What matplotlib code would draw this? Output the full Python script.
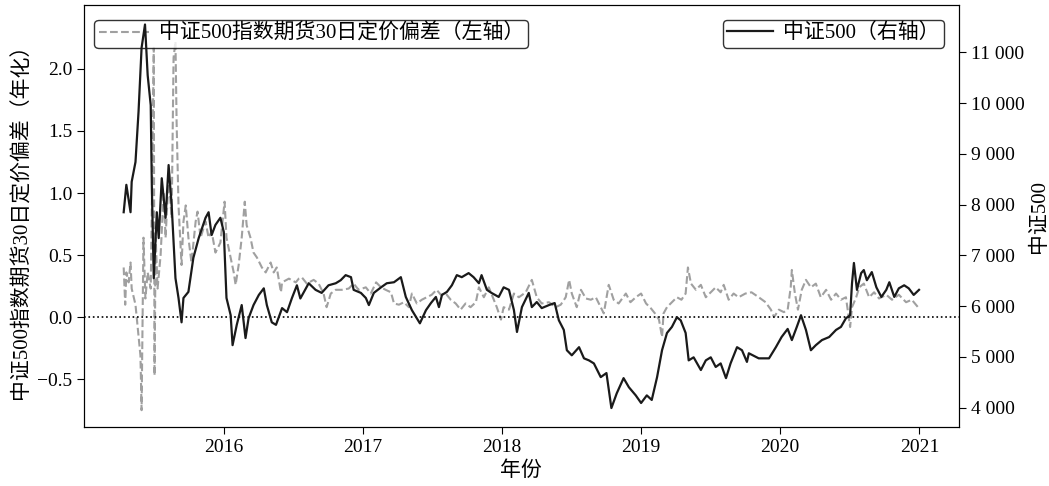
import pandas as pd
import matplotlib
matplotlib.use('Agg')
import matplotlib.pyplot as plt
import matplotlib.dates as mdates
from matplotlib.ticker import FuncFormatter, MultipleLocator

plt.rcParams['font.family'] = ['Liberation Serif', 'Noto Sans CJK SC', 'DejaVu Sans']
plt.rcParams['axes.unicode_minus'] = True

# 中证500 指数（右轴）
csi_dates = [
    '2015-04-13', '2015-04-20', '2015-05-01', '2015-05-04', '2015-05-14', '2015-05-22',
    '2015-05-30', '2015-06-08', '2015-06-15', '2015-06-23', '2015-06-26', '2015-07-01',
    '2015-07-09', '2015-07-14', '2015-07-22', '2015-08-01', '2015-08-09', '2015-08-17',
    '2015-08-27', '2015-09-04', '2015-09-12', '2015-09-17', '2015-09-30', '2015-10-13',
    '2015-10-27', '2015-11-14', '2015-11-22', '2015-11-30', '2015-12-10', '2015-12-23',
    '2016-01-01', '2016-01-08', '2016-01-19', '2016-01-24', '2016-02-04', '2016-02-17',
    '2016-02-27', '2016-03-06', '2016-03-19', '2016-04-02', '2016-04-15', '2016-04-23',
    '2016-05-06', '2016-05-17', '2016-06-02', '2016-06-15', '2016-06-28', '2016-07-11',
    '2016-07-20', '2016-08-11', '2016-08-29', '2016-09-14', '2016-10-02', '2016-10-21',
    '2016-11-03', '2016-11-16', '2016-11-30', '2016-12-07', '2016-12-26', '2017-01-08',
    '2017-01-16', '2017-01-29', '2017-02-17', '2017-03-04', '2017-03-23', '2017-04-10',
    '2017-04-23', '2017-05-09', '2017-05-30', '2017-06-15', '2017-06-28', '2017-07-11',
    '2017-07-19', '2017-07-27', '2017-08-09', '2017-08-22', '2017-09-04', '2017-09-17',
    '2017-10-05', '2017-10-18', '2017-11-01', '2017-11-08', '2017-11-22', '2017-12-04',
    '2017-12-23', '2018-01-05', '2018-01-19', '2018-02-01', '2018-02-09', '2018-02-22',
    '2018-03-12', '2018-03-20', '2018-04-02', '2018-04-15', '2018-05-04', '2018-05-19',
    '2018-05-30', '2018-06-12', '2018-06-20', '2018-07-03', '2018-07-22', '2018-08-04',
    '2018-08-17', '2018-08-30', '2018-09-17', '2018-10-02', '2018-10-15', '2018-10-29',
    '2018-11-16', '2018-11-30', '2018-12-18', '2019-01-01', '2019-01-16', '2019-01-29',
    '2019-02-12', '2019-02-25', '2019-03-10', '2019-03-23', '2019-04-05', '2019-04-15',
    '2019-04-28', '2019-05-06', '2019-05-19', '2019-06-07', '2019-06-20', '2019-07-03',
    '2019-07-16', '2019-07-29', '2019-08-12', '2019-08-24', '2019-09-10', '2019-09-23',
    '2019-10-06', '2019-10-11', '2019-11-06', '2019-12-03', '2019-12-21', '2020-01-05',
    '2020-01-21', '2020-02-01', '2020-02-14', '2020-02-25', '2020-03-09', '2020-03-22',
    '2020-04-04', '2020-04-20', '2020-05-09', '2020-05-27', '2020-06-09', '2020-06-22',
    '2020-07-03', '2020-07-08', '2020-07-13', '2020-07-21', '2020-08-01', '2020-08-08',
    '2020-08-16', '2020-08-29', '2020-09-10', '2020-09-23', '2020-10-06', '2020-10-14',
    '2020-10-27', '2020-11-08', '2020-11-22', '2020-12-04', '2020-12-17', '2020-12-31',
]
csi_values = [
    7850, 8390, 7850, 8450, 8840, 9830,
    11090, 11550, 10550, 9960, 8330, 6550,
    7850, 7340, 8520, 7740, 8780, 7990,
    6550, 6160, 5680, 6160, 6280, 6950,
    7340, 7740, 7850, 7400, 7600, 7740,
    7460, 6160, 5820, 5230, 5630, 6020,
    5370, 5760, 6020, 6220, 6350, 6020,
    5680, 5630, 5960, 5880, 6160, 6410,
    6150, 6450, 6320, 6260, 6410, 6450,
    6510, 6610, 6570, 6320, 6260, 6160,
    6020, 6260, 6370, 6450, 6470, 6570,
    6180, 5920, 5660, 5920, 6060, 6180,
    5980, 6220, 6280, 6410, 6610, 6570,
    6650, 6570, 6450, 6610, 6320, 6260,
    6180, 6370, 6320, 5920, 5490, 5980,
    6260, 5980, 6080, 5960, 6020, 6060,
    5720, 5530, 5130, 5030, 5190, 4970,
    4930, 4870, 4600, 4680, 3990, 4280,
    4580, 4400, 4240, 4090, 4240, 4150,
    4600, 5130, 5470, 5590, 5780, 5720,
    5470, 4930, 4990, 4740, 4930, 4990,
    4800, 4870, 4580, 4870, 5190, 5130,
    4900, 5070, 4970, 4970, 5190, 5390,
    5550, 5330, 5590, 5820, 5530, 5130,
    5230, 5330, 5390, 5530, 5590, 5760,
    5820, 6450, 6850, 6320, 6650, 6710,
    6510, 6670, 6370, 6180, 6320, 6470,
    6180, 6350, 6410, 6350, 6220, 6320,
]

# 中证500指数期货30日定价偏差（年化，左轴）
gap_dates = [
    '2015-04-13', '2015-04-17', '2015-04-20', '2015-04-26', '2015-05-01', '2015-05-04',
    '2015-05-14', '2015-05-19', '2015-05-27', '2015-05-30', '2015-06-04', '2015-06-09',
    '2015-06-15', '2015-06-23', '2015-06-26', '2015-07-01', '2015-07-03', '2015-07-06',
    '2015-07-11', '2015-07-19', '2015-07-27', '2015-08-01', '2015-08-09', '2015-08-17',
    '2015-08-22', '2015-08-27', '2015-08-30', '2015-09-04', '2015-09-12', '2015-09-17',
    '2015-09-23', '2015-09-30', '2015-10-08', '2015-10-19', '2015-10-24', '2015-11-01',
    '2015-11-14', '2015-11-22', '2015-11-30', '2015-12-10', '2015-12-23', '2016-01-03',
    '2016-01-08', '2016-01-19', '2016-01-27', '2016-02-01', '2016-02-09', '2016-02-17',
    '2016-02-25', '2016-03-01', '2016-03-11', '2016-03-19', '2016-03-28', '2016-04-10',
    '2016-04-20', '2016-05-03', '2016-05-11', '2016-05-19', '2016-05-30', '2016-06-02',
    '2016-06-20', '2016-07-08', '2016-07-16', '2016-07-24', '2016-08-06', '2016-08-24',
    '2016-09-06', '2016-09-19', '2016-09-27', '2016-10-08', '2016-10-21', '2016-11-06',
    '2016-11-24', '2016-12-07', '2016-12-20', '2017-01-08', '2017-01-21', '2017-02-04',
    '2017-02-17', '2017-03-01', '2017-03-15', '2017-03-23', '2017-04-05', '2017-04-18',
    '2017-05-01', '2017-05-09', '2017-05-22', '2017-06-04', '2017-06-17', '2017-06-30',
    '2017-07-13', '2017-07-24', '2017-08-06', '2017-08-19', '2017-09-01', '2017-09-14',
    '2017-09-27', '2017-10-10', '2017-10-24', '2017-11-01', '2017-11-14', '2017-11-27',
    '2017-12-10', '2017-12-18', '2017-12-29', '2018-01-05', '2018-01-19', '2018-02-01',
    '2018-02-14', '2018-03-04', '2018-03-20', '2018-04-02', '2018-04-15', '2018-05-04',
    '2018-05-22', '2018-06-04', '2018-06-17', '2018-06-26', '2018-07-03', '2018-07-16',
    '2018-07-27', '2018-08-09', '2018-08-22', '2018-09-04', '2018-09-17', '2018-09-25',
    '2018-10-08', '2018-10-21', '2018-11-03', '2018-11-22', '2018-12-04', '2018-12-18',
    '2019-01-01', '2019-01-14', '2019-01-27', '2019-02-09', '2019-02-17', '2019-02-25',
    '2019-03-01', '2019-03-10', '2019-03-23', '2019-04-05', '2019-04-17', '2019-04-28',
    '2019-05-04', '2019-05-12', '2019-05-25', '2019-06-07', '2019-06-20', '2019-07-03',
    '2019-07-16', '2019-07-29', '2019-08-06', '2019-08-19', '2019-09-01', '2019-09-14',
    '2019-10-02', '2019-10-18', '2019-11-06', '2019-11-24', '2019-12-08', '2019-12-16',
    '2019-12-29', '2020-01-11', '2020-01-21', '2020-01-29', '2020-02-01', '2020-02-09',
    '2020-02-17', '2020-02-27', '2020-03-09', '2020-03-22', '2020-04-04', '2020-04-17',
    '2020-05-01', '2020-05-14', '2020-05-27', '2020-06-09', '2020-06-22', '2020-07-03',
    '2020-07-08', '2020-07-19', '2020-07-27', '2020-08-08', '2020-08-22', '2020-09-04',
    '2020-09-17', '2020-10-06', '2020-10-21', '2020-11-08', '2020-11-27', '2020-12-12',
    '2020-12-31',
]
gap_values = [
    0.40, 0.10, 0.36, 0.28, 0.44, 0.23,
    0.10, -0.06, -0.31, -0.75, 0.64, 0.15,
    0.36, 0.23, 0.90, 2.17, -0.47, 0.64,
    0.23, 0.50, 1.01, 0.64, 1.12, 0.80,
    2.09, 2.22, 1.57, 0.90, 0.42, 0.77,
    0.90, 0.64, 0.44, 0.77, 0.85, 0.64,
    0.77, 0.64, 0.69, 0.52, 0.60, 0.93,
    0.64, 0.48, 0.36, 0.26, 0.42, 0.64,
    0.93, 0.74, 0.64, 0.52, 0.48, 0.40,
    0.36, 0.44, 0.36, 0.40, 0.20, 0.28,
    0.31, 0.28, 0.31, 0.32, 0.27, 0.30,
    0.27, 0.19, 0.08, 0.19, 0.22, 0.22,
    0.23, 0.27, 0.22, 0.24, 0.19, 0.28,
    0.24, 0.22, 0.20, 0.11, 0.10, 0.12,
    0.08, 0.19, 0.11, 0.14, 0.16, 0.18,
    0.22, 0.18, 0.19, 0.14, 0.11, 0.06,
    0.11, 0.08, 0.12, 0.24, 0.16, 0.24,
    0.14, 0.08, -0.02, 0.08, 0.06, 0.19,
    0.16, 0.20, 0.30, 0.16, 0.11, 0.12,
    0.08, 0.10, 0.16, 0.30, 0.19, 0.08,
    0.22, 0.15, 0.14, 0.16, 0.08, 0.03,
    0.26, 0.14, 0.11, 0.19, 0.12, 0.16,
    0.19, 0.11, 0.07, 0.02, -0.02, -0.16,
    0.03, 0.08, 0.12, 0.16, 0.14, 0.19,
    0.40, 0.27, 0.22, 0.26, 0.16, 0.20,
    0.24, 0.20, 0.26, 0.14, 0.19, 0.16,
    0.19, 0.20, 0.16, 0.12, 0.06, 0.00,
    0.06, 0.04, 0.06, 0.24, 0.38, 0.19,
    0.06, 0.22, 0.30, 0.24, 0.27, 0.16,
    0.22, 0.14, 0.19, 0.14, 0.16, -0.08,
    0.08, 0.16, 0.24, 0.27, 0.16, 0.20,
    0.15, 0.18, 0.14, 0.18, 0.12, 0.14,
    0.07,
]

left_ticks = [-0.5, 0.0, 0.5, 1.0, 1.5, 2.0]
year_ticks = ['2016-01-01', '2017-01-01', '2018-01-01', '2019-01-01', '2020-01-01', '2021-01-01']

csi_t = pd.to_datetime(csi_dates)
gap_t = pd.to_datetime(gap_dates)

fig = plt.figure(figsize=(10.49, 4.86), dpi=100)
ax = fig.add_axes([0.080, 0.121, 0.834, 0.869])
ax2 = ax.twinx()

l1, = ax.plot(gap_t, gap_values, color='#a0a0a0', lw=1.5, ls='--',
              label='中证500指数期货30日定价偏差（左轴）')
ax.axhline(0, color='black', lw=1.2, ls=':')
l2, = ax2.plot(csi_t, csi_values, color='#1a1a1a', lw=1.6,
               label='中证500（右轴）')

ax.set_ylim(-0.887, 2.516)
ax2.set_ylim(3613, 11937)
ax.set_yticks(left_ticks)
ax.set_xticks(pd.to_datetime(year_ticks))
ax.xaxis.set_major_formatter(mdates.DateFormatter('%Y'))
ax2.yaxis.set_major_locator(MultipleLocator(1000))
ax2.yaxis.set_major_formatter(FuncFormatter(lambda v, p: f'{int(v):,}'.replace(',', ' ')))

ax.set_xlabel('年份', fontsize=15)
ax.set_ylabel('中证500指数期货30日定价偏差（年化）', fontsize=15, labelpad=4)
ax2.set_ylabel('中证500', fontsize=15)

for a in (ax, ax2):
    a.tick_params(labelsize=14, length=5)
    for s in a.spines.values():
        s.set_color('black')

leg1 = ax.legend(handles=[l1], loc='upper left', fontsize=15, handlelength=2.4,
                 edgecolor='black', framealpha=0.8, borderpad=0.2,
                 handletextpad=0.5, bbox_to_anchor=(0.0, 0.99))
leg1.get_frame().set_linewidth(1.0)
leg2 = ax2.legend(handles=[l2], loc='upper right', fontsize=15, handlelength=2.2,
                  edgecolor='black', framealpha=0.8, borderpad=0.2,
                  handletextpad=0.5, bbox_to_anchor=(0.995, 0.99))
leg2.get_frame().set_linewidth(1.0)

fig.savefig('out.png', dpi=100)
